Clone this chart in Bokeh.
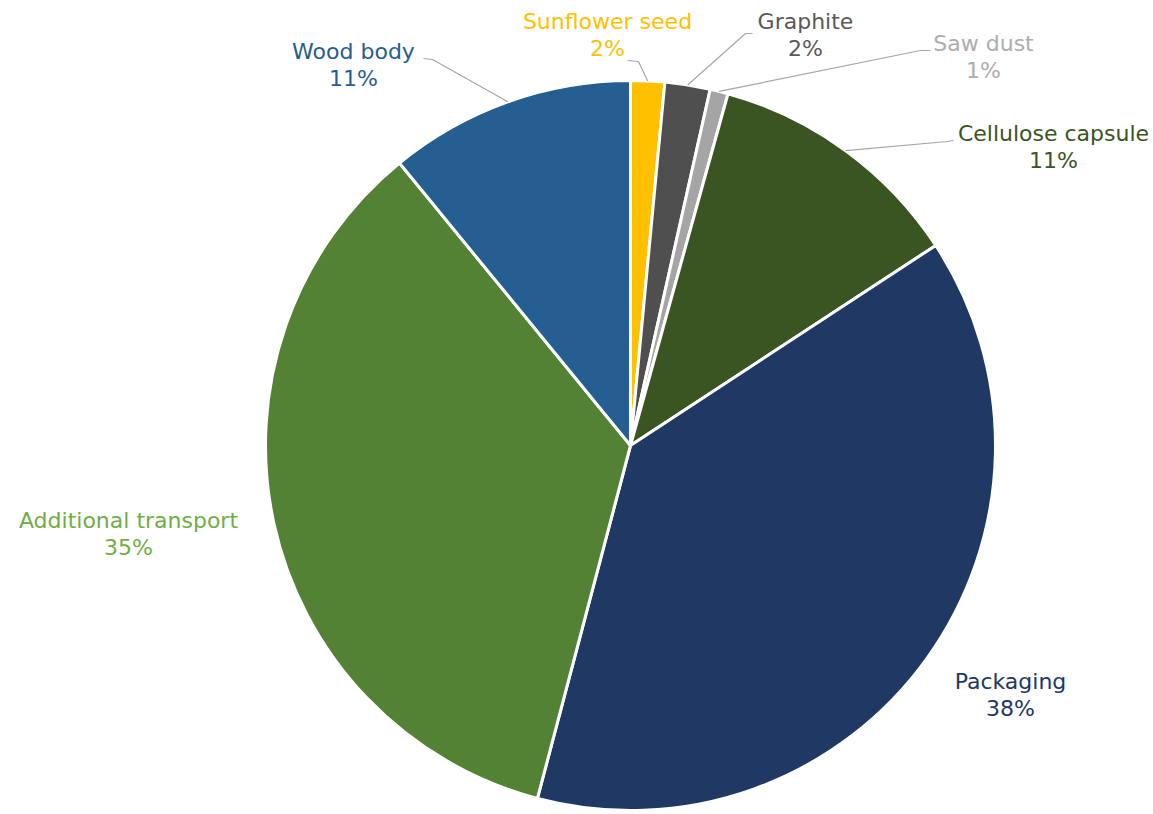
import math
from bokeh.plotting import figure
from bokeh.models import Range1d, ColumnDataSource
from bokeh.core.properties import value
from bokeh.embed import file_html
from bokeh.resources import INLINE

# ---- data ----
categories = ["Sunflower seed", "Graphite", "Saw dust", "Cellulose capsule",
              "Packaging", "Additional transport", "Wood body"]
shares = [1.5, 2.0, 0.8, 11.45, 38.3, 34.95, 10.9]
fill_colors = ["#FFC000", "#4F4F4F", "#A5A5A5", "#3A5422",
               "#203864", "#548235", "#255E91"]
label_colors = ["#FFC000", "#595959", "#ADADAD", "#3A5422",
                "#203864", "#70AD47", "#255E91"]

# ---- layout (pixel-like coordinates, y down -> negated) ----
CX, CY, R = 630, 445, 365
label_pos = {
    "Sunflower seed": (607, 21),
    "Graphite": (805, 21),
    "Saw dust": (983, 43),
    "Cellulose capsule": (1053, 133),
    "Packaging": (1010, 681),
    "Additional transport": (128, 520),
    "Wood body": (353, 51),
}
# leader: (elbow point, stub end)
leaders = {
    "Sunflower seed": ((638, 61), (627, 60)),
    "Graphite": ((745, 33), (752, 33)),
    "Saw dust": ((920, 50), (930, 50)),
    "Cellulose capsule": ((947, 141), (953, 140)),
    "Wood body": ((432, 59), (423, 58)),
}

W, H = 1153, 814
p = figure(width=W, height=H, x_range=Range1d(0, W), y_range=Range1d(-H, 0),
           output_backend="svg", toolbar_location=None, x_axis_type=None, y_axis_type=None,
           min_border=0, background_fill_color="white", border_fill_color="white")
p.outline_line_color = None
p.grid.visible = False

total = sum(shares)
starts, ends, mids = [], [], []
cum = 0.0
for v in shares:
    a0 = math.pi / 2 - 2 * math.pi * cum / total
    cum += v
    a1 = math.pi / 2 - 2 * math.pi * cum / total
    starts.append(a1)
    ends.append(a0)
    mids.append((a0 + a1) / 2)

src = ColumnDataSource(dict(x=[CX] * len(shares), y=[-CY] * len(shares),
                            start=starts, end=ends, color=fill_colors))
p.wedge(x="x", y="y", radius=R, start_angle="start", end_angle="end",
        direction="anticlock", fill_color="color", line_color="white", line_width=3,
        source=src)

# leader lines
xs, ys = [], []
for cat, mid in zip(categories, mids):
    if cat in leaders:
        (ex, ey), (sx, sy) = leaders[cat]
        px = CX + R * math.cos(mid)
        py = -CY + R * math.sin(mid)
        xs.append([px, ex, sx])
        ys.append([py, -ey, -sy])
p.multi_line(xs=xs, ys=ys, line_color="#A6A6A6", line_width=1.2)

# labels
lx, ly, lt, lc = [], [], [], []
for cat, v, c in zip(categories, shares, label_colors):
    x, y = label_pos[cat]
    pct = int(v / total * 100 + 0.5)
    lx += [x, x]
    ly += [-y, -(y + 27)]
    lt += [cat, f"{pct}%"]
    lc += [c, c]
p.text(x=lx, y=ly, text=lt, text_color=lc, text_font=value("DejaVu Sans"),
       text_font_size="22px", text_align="center", text_baseline="middle")

open("out.html", "w").write(file_html(p, INLINE))
